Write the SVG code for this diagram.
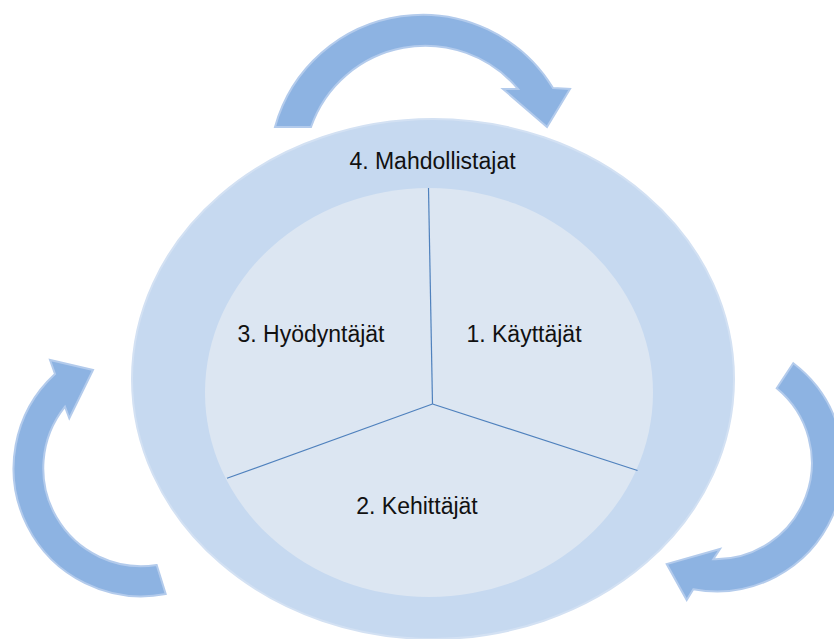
<svg xmlns="http://www.w3.org/2000/svg" width="834" height="639" viewBox="0 0 834 639">
  <defs>
    <style>
      .lbl { font-family: "Liberation Sans", Arial, sans-serif; font-size: 23px; fill: #111111; text-anchor: middle; }
      .arrow { fill: #8db3e2; stroke: #b3cbec; stroke-width: 2; stroke-linejoin: miter; }
      .divider { stroke: #4f81bd; stroke-width: 1.2; fill: none; }
    </style>
  </defs>
  <rect width="834" height="639" fill="#ffffff"/>

  <g id="node-4-mahdollistajat">
    <ellipse cx="433" cy="379" rx="301" ry="260" fill="#c6d9f0" stroke="#d3e1f3" stroke-width="2"/>
    <text class="lbl" x="432.5" y="169">4. Mahdollistajat</text>
  </g>

  <g id="inner-core">
    <ellipse cx="429" cy="392.5" rx="224" ry="204.5" fill="#dce6f2"/>
  </g>

  <g id="dividers">
    <line class="divider" x1="428.5" y1="188" x2="432.5" y2="404"/>
    <line class="divider" x1="432.5" y1="404" x2="637.5" y2="470.5"/>
    <line class="divider" x1="432.5" y1="404" x2="227" y2="478.3"/>
  </g>

  <g id="node-1-kayttajat">
    <text class="lbl" x="524" y="342">1. Käyttäjät</text>
  </g>
  <g id="node-2-kehittajat">
    <text class="lbl" x="417" y="514">2. Kehittäjät</text>
  </g>
  <g id="node-3-hyodyntajat">
    <text class="lbl" x="311" y="342">3. Hyödyntäjät</text>
  </g>

  <g id="connectors">
    <path id="arrow-top" class="arrow" d="M 275,127 A 153 153 0 0 1 553,88 L 570,89 L 547,127 L 503,89 L 518,89 A 121 121 0 0 0 311,127 Z"/>
    <path id="arrow-right" class="arrow" d="M 793.3,363.3 A 127 127 0 0 1 693.3,589.3 L 686.7,600 L 666.7,564 L 720,549 L 713.3,559.3 A 96.5 96.5 0 0 0 776.7,388.3 Z"/>
    <path id="arrow-left" class="arrow" d="M 165.7,594 A 128 128 0 0 1 55,374 L 50,360 L 93,370 L 69.3,418.3 L 65,406.7 A 98 98 0 0 0 156.7,565 Z"/>
  </g>
</svg>
